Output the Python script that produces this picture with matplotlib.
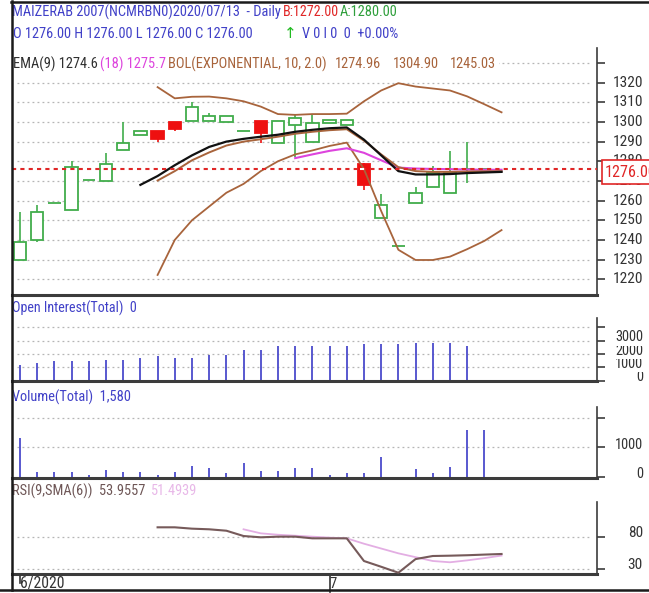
import numpy as np
import matplotlib
matplotlib.use("Agg")
import matplotlib.pyplot as plt
import matplotlib.transforms as mtransforms
from matplotlib import font_manager as fm
from matplotlib.lines import Line2D
from matplotlib.patches import Rectangle

# ---- daily bars (index 0 = first June bar, 18 = first July bar) ----
opens  = [1230, 1240, 1259, 1255, 1270.5, 1270, 1285.5, 1293.5, 1295.6, 1300, 1300.7, 1300.7, 1300, 1295.6,
          1300.5, 1289.5, 1298.5, 1290, 1299.6, 1298.5, 1278.6, 1251, 1237, 1259, 1267, 1263.7, 1276, 1276]
highs  = [1254, 1258, 1259, 1280, 1270.5, 1284, 1300, 1295.5, 1295.6, 1300, 1310.3, 1304.7, 1303, 1295.6,
          1300.5, 1300.5, 1304, 1303.6, 1300.8, 1300.8, 1279, 1263.4, 1237, 1267, 1277.6, 1285.4, 1290, 1276]
lows   = [1230, 1239, 1259, 1255, 1270.5, 1270, 1285.5, 1293.5, 1290, 1295.6, 1300.7, 1300.7, 1300, 1295.6,
          1289.5, 1289.5, 1282.4, 1290, 1299.6, 1298.5, 1265.5, 1251, 1237, 1259, 1267, 1263.7, 1269, 1276]
closes = [1239, 1254, 1259, 1277, 1270.5, 1278.5, 1289.5, 1295.5, 1291.2, 1296.3, 1307.5, 1303, 1303, 1295.6,
          1294.3, 1300.5, 1301.9, 1299.7, 1300.8, 1300.8, 1268, 1258, 1237, 1263.7, 1274, 1274.2, 1276, 1276]
last_price = 1276.00

# indicators: first index + values
ema9_start = 7
ema9 = [1268, 1272.5, 1278, 1283, 1287.3, 1290, 1291.4, 1292.5, 1293.5, 1295, 1296, 1296.8, 1297.2,
        1291, 1283, 1275, 1273.3, 1273.3, 1273.5, 1274, 1274.3, 1274.6]
ema18_start = 16
ema18 = [1281.6, 1283.5, 1285.3, 1286.6, 1284.3, 1280.5, 1276.8, 1276.3, 1276.1, 1276, 1275.8, 1275.7, 1275.7]
bol_start = 8
bol_mid = [1270.2, 1275, 1280.5, 1284.5, 1288, 1290, 1291.2, 1292.5, 1294, 1295, 1295.8, 1296.3, 1290.5,
           1283.5, 1277, 1275, 1274.6, 1274.6, 1274.8, 1274.9, 1274.96]
bol_up = [1317.7, 1312.0, 1312.8, 1312.9, 1312.0, 1310.5, 1307.8, 1304.0, 1303.6, 1304.0, 1304.0, 1304.2,
          1310.5, 1316.0, 1319.7, 1318.0, 1317.0, 1316.0, 1313.0, 1309.0, 1304.9]
bol_lo = [1222.2, 1240, 1250, 1257, 1264, 1268.5, 1275, 1280, 1283.5, 1285.5, 1287.8, 1289.5, 1276,
          1254.7, 1235, 1229.8, 1229.8, 1231.5, 1235.3, 1239.5, 1245.0]

open_interest = [1150, 1300, 1450, 1450, 1450, 1570, 1570, 1700, 1850, 1700, 1700, 1920, 1920, 2320,
                 2320, 2600, 2600, 2600, 2600, 2600, 2730, 2730, 2730, 2810, 2860, 2810, 2600]
volume = [1323, 180, 180, 180, 70, 235, 180, 180, 70, 180, 380, 290, 145, 460, 200, 200, 290, 290,
          70, 145, 145, 660, 0, 260, 145, 350, 1570, 1580]

rsi_start = 8
rsi = [95.6, 95.6, 93.5, 92.5, 90.3, 82, 80, 81, 81, 78.4, 78.4, 78.4, 43, 34, 24.7, 46, 50.8, 51.3,
       52, 53, 53.96]
rsi_sma_start = 13
rsi_sma = [92.5, 86.2, 84, 82.5, 81, 79.5, 78.4, 70, 62.5, 55, 49, 43, 41, 44, 47.5, 51.5]

month_pos = [0, 18]
month_labels = ['6/2020', '7']


# ---- font: a narrow sans if one is installed ----
def pick_narrow():
    fl = fm.fontManager.ttflist
    names = {f.name for f in fl}
    for n in ['Liberation Sans Narrow', 'Arial Narrow', 'Roboto Condensed', 'Noto Sans Condensed',
              'Open Sans Condensed', 'DejaVu Sans Condensed']:
        if n in names:
            return n, 'normal'
    for st in ['condensed', 'semi-condensed']:
        for n in ['Noto Sans', 'Open Sans', 'Roboto', 'DejaVu Sans']:
            for f in fl:
                if f.name == n and str(f.stretch) == st and f.style == 'normal':
                    return n, st
    return 'Liberation Sans', 'normal'


fam, stretch = pick_narrow()
plt.rcParams['font.family'] = [fam, 'DejaVu Sans']
plt.rcParams['font.stretch'] = stretch

# ---- layout (pixel based) ----
W, H = 649, 593
fig = plt.figure(figsize=(W / 100, H / 100), dpi=100)
PX = mtransforms.Affine2D().scale(1 / W, -1 / H).translate(0, 1) + fig.transFigure
R = fig.canvas.get_renderer()

BLUE = '#4141c8'
RED = '#e02626'
GREEN = '#2f9f3c'
BROWN = '#a8643c'
MAGENTA = '#dd44dd'
DARK = '#303030'
GRID = '#b5b5b5'
UPC = '#41ad4b'
DOWNC = '#ee1010'
BARC = '#4b4bcc'
XMIN, XMAX = -0.465, 33.55


def fit(t, width, size):
    # shrink a text until it is no wider than the space it has in the reference
    t.set_fontsize(size)
    w = t.get_window_extent(R).width
    if w > width:
        t.set_fontsize(size * width / w)
    return t.get_fontsize()


def px_axes(l, t, r, b):
    return fig.add_axes([l / W, 1 - b / H, (r - l) / W, (b - t) / H])


def panel(ax, ylim, ticks, grid):
    ax.set_xlim(XMIN, XMAX)
    ax.set_ylim(*ylim)
    ax.patch.set_alpha(0)
    ax.spines['left'].set_visible(False)
    ax.spines['top'].set_visible(False)
    ax.spines['bottom'].set_linewidth(2.2)
    ax.spines['bottom'].set_color('#3c3c3c')
    ax.spines['right'].set_linewidth(1.2)
    ax.spines['right'].set_color('#3c3c3c')
    ax.set_xticks([])
    ax.yaxis.tick_right()
    ax.set_yticks(ticks)
    ax.tick_params(axis='y', direction='out', length=6, width=1.2, color='#3c3c3c', labelright=False)
    ax.hlines(grid, -0.2, 33.2, colors=GRID, linestyles=(0, (1.5, 2.5)), lw=0.9, zorder=0)


def ylabels(ax, vals, dy=0.0, boxed=False, width=30):
    tr = mtransforms.blended_transform_factory(fig.transFigure, ax.transData)
    tr = mtransforms.offset_copy(tr, fig=fig, x=0, y=dy, units='dots')
    for k, v in enumerate(vals):
        kw = {}
        if boxed:
            kw['bbox'] = dict(facecolor='white', edgecolor='none', pad=1.0)
        t = ax.text(643 / W, v, str(v), transform=tr, ha='right', va='center',
                    color='#333333', clip_on=False, zorder=3 + k, **kw)
        fit(t, width * len(str(v)) / 4.0, 12)


# ---- price panel ----
ax = px_axes(12, 48, 597, 295)
panel(ax, (1212.0, 1337.6), np.arange(1220, 1331, 10), np.arange(1220, 1331, 10))
ylabels(ax, list(range(1220, 1321, 10)))

bw = 0.72
for i, (o, h, l, c) in enumerate(zip(opens, highs, lows, closes)):
    lo, hi = min(o, c), max(o, c)
    up = c >= o
    col = UPC if up else DOWNC
    if hi - lo < 0.3:
        ax.hlines(o, i - bw / 2, i + bw / 2, colors=col, lw=1.3, zorder=2)
    else:
        ax.add_patch(Rectangle((i - bw / 2, lo), bw, hi - lo, facecolor='white' if up else col,
                               edgecolor=col, lw=1.3, zorder=2))
    if h > hi:
        ax.vlines(i, hi, h, colors=col, lw=1.2, zorder=2)
    if l < lo:
        ax.vlines(i, l, lo, colors=col, lw=1.2, zorder=2)

ax.plot(np.arange(bol_start, bol_start + len(bol_up)), bol_up, color=BROWN, lw=1.3, zorder=3)
ax.plot(np.arange(bol_start, bol_start + len(bol_lo)), bol_lo, color=BROWN, lw=1.3, zorder=3)
ax.plot(np.arange(ema18_start, ema18_start + len(ema18)), ema18, color=MAGENTA, lw=1.5, zorder=3)
ax.plot(np.arange(bol_start, bol_start + len(bol_mid)), bol_mid, color=BROWN, lw=1.4, zorder=3)
ax.plot(np.arange(ema9_start, ema9_start + len(ema9)), ema9, color='#111111', lw=1.6, zorder=3)
ax.axhline(last_price, color=RED, lw=1.5, ls=(0, (2, 2)), zorder=4)
# dots look white where the level crosses a red body
for i, (o, c) in enumerate(zip(opens, closes)):
    if c < o and c < last_price < o:
        ax.hlines(last_price, i - 0.25, i + 0.25, colors='white', lw=1.5, linestyles=(0, (2, 2)), zorder=5)

# last price box (cut by the right edge, as in the reference)
fig.add_artist(Rectangle((602, 160), 60, 24, transform=PX, facecolor='white', edgecolor=RED, lw=1.2,
                         zorder=2))
fit(fig.text(605, 172.5, '%.2f' % last_price, transform=PX, color=RED, ha='left', va='center',
             zorder=3), 52, 16)

# ---- open interest ----
ax_oi = px_axes(12, 318.3, 597, 380.7)
panel(ax_oi, (0, 4690), [0, 1000, 2000, 3000, 4000], [1000, 2000, 3000, 4000])
ax_oi.vlines(np.arange(len(open_interest)), 0, open_interest, colors=BARC, lw=1.3, zorder=2)
ylabels(ax_oi, [0, 1000, 2000, 3000], dy=3.5, boxed=True, width=28)

# ---- volume ----
ax_v = px_axes(12, 406.7, 597, 478)
panel(ax_v, (-34, 2367), [0, 1000, 2000], [1000, 2000])
ax_v.vlines(np.arange(len(volume)), 0, volume, colors=BARC, lw=1.3, zorder=2)
ylabels(ax_v, [0, 1000], dy=2.5, width=28)

# ---- RSI ----
ax_r = px_axes(12, 501.7, 597, 574)
panel(ax_r, (22.7, 135.6), [30, 80], [30, 80])
ax_r.plot(np.arange(rsi_sma_start, rsi_sma_start + len(rsi_sma)), rsi_sma, color='#e3aee3', lw=1.3, zorder=2)
ax_r.plot(np.arange(rsi_start, rsi_start + len(rsi)), rsi, color='#765a5a', lw=1.5, zorder=3)
ylabels(ax_r, [30, 80], dy=4.0, width=30)

trx = mtransforms.blended_transform_factory(ax_r.transData, PX)
for p, lab, ln in zip(month_pos, month_labels, [583, 592]):
    ax_r.plot([p, p], [574, ln], color='#333333', lw=1.2, transform=trx, clip_on=False)
    t = ax_r.text(p, 583.5, lab, transform=trx, ha='left', va='center', color='#333333', clip_on=False)
    fit(t, 44 * len(lab) / 6.0, 12)

# ---- headers: (x start, room until next text, y, text, colour) ----
fig.add_artist(Rectangle((12.5, 53), 486, 20, transform=PX, facecolor='white', edgecolor='none', zorder=2))
headers = [
    (11.7, 269, 12.5, 'MAIZERAB 2007(NCMRBN0)2020/07/13  - Daily', BLUE),
    (282.7, 56, 12.5, 'B:1272.00', RED),
    (340, 300, 12.5, 'A:1280.00', GREEN),
    (12.7, 268, 34, 'O 1276.00 H 1276.00 L 1276.00 C 1276.00', BLUE),
    (301.7, 300, 34, 'V 0 I 0  0  +0.00%', BLUE),
    (13.3, 85, 64, 'EMA(9) 1274.6', DARK),
    (100, 66, 64, '(18) 1275.7', MAGENTA),
    (168.3, 165, 64, 'BOL(EXPONENTIAL, 10, 2.0)', BROWN),
    (335, 56, 64, '1274.96', BROWN),
    (393, 55, 64, '1304.90', BROWN),
    (450, 150, 64, '1245.03', BROWN),
    (12.5, 126, 308.5, 'Open Interest(Total)  0', BLUE),
    (12.5, 120, 397, 'Volume(Total)  1,580', BLUE),
    (12.5, 136, 491, 'RSI(9,SMA(6))  53.9557', '#6e5656'),
    (151, 150, 491, '51.4939', '#e8b8e8'),
]
# one common size, taken from the first line, shrunk only where a text would run into the next one
hsize = None
for x0, room, y, s, c in headers:
    t = fig.text(x0, y, s, transform=PX, color=c, ha='left', va='center', zorder=3)
    if hsize is None:
        hsize = fit(t, room, 11.5)
    else:
        fit(t, room, hsize)
fig.text(283.5, 34, '\u2191', transform=PX, color='#22bb22', fontsize=11, ha='left', va='center', zorder=3,
         family='DejaVu Sans')

# outer frame
for xs, ys in [([11, 649], [1.5, 1.5]), ([11.5, 11.5], [1, 589.5]), ([0, 649], [589.5, 589.5])]:
    fig.add_artist(Line2D(xs, ys, transform=PX, color='#1a1a1a', lw=1.8, zorder=4))

fig.savefig('out.png', dpi=100)
